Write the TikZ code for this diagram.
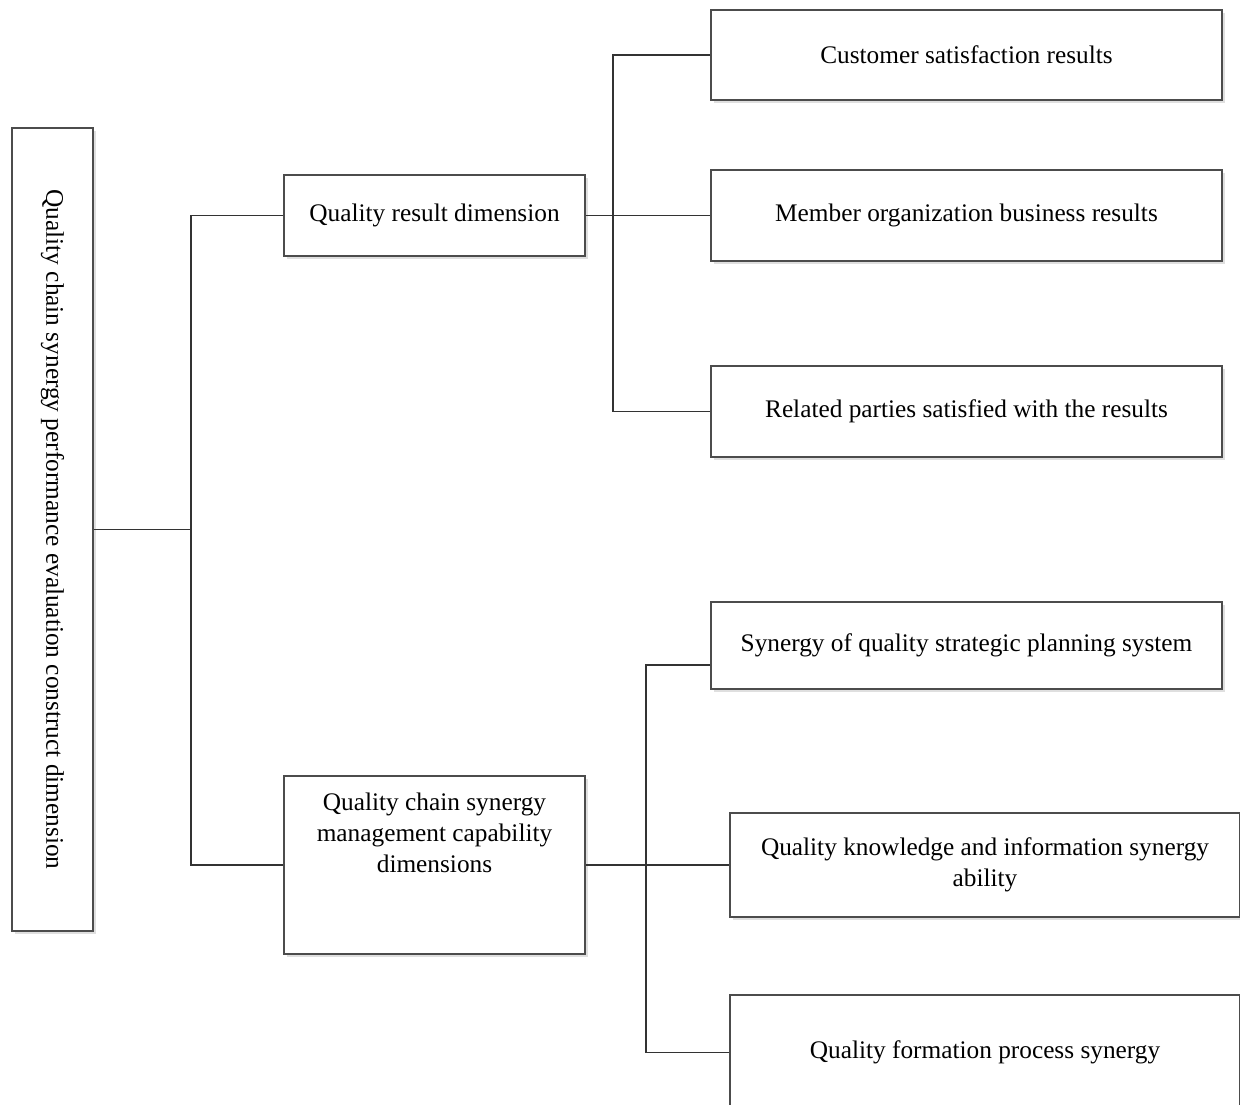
\documentclass[tikz,border=0pt]{standalone}
\usepackage{fontspec}
\setmainfont{Liberation Serif}
\usetikzlibrary{shadows}

\begin{document}
\begin{tikzpicture}[
x=0.025cm, y=-0.025cm,
every node/.style={font=\fontsize{18}{22}\selectfont},
dimbox/.style={draw=black!70, line width=1.2pt, fill=white, align=center,
  drop shadow={shadow xshift=2pt, shadow yshift=-2pt, opacity=0.25}},
midbox/.style={dimbox, minimum width=7.525cm},
leafbox/.style={dimbox, minimum width=12.775cm},
link/.style={draw=black!80, line width=1.3pt},]
\useasboundingbox (0,0) rectangle (1240,1104);

\node[dimbox, minimum width=2.025cm, minimum height=20.075cm,
  label={[rotate=-90, anchor=center]center:Quality chain synergy performance evaluation construct dimension}]
  (root) at (52.5,529.5) {};

\node[midbox, minimum height=2.025cm] (qrd) at (434.5,215.5) {Quality result dimension};
\node[midbox, minimum height=4.45cm,
  label={[align=center, anchor=north, yshift=-0.33cm]north:Quality chain synergy\\management capability\\dimensions}]
  (qcs) at (434.5,865) {};

\node[leafbox, minimum height=2.25cm] (csr) at (966.5,55) {Customer satisfaction results};
\node[leafbox, minimum height=2.275cm] (mob) at (966.5,215.5) {Member organization business results};
\node[leafbox, minimum height=2.275cm] (rps) at (966.5,411.5) {Related parties satisfied with the results};
\node[leafbox, minimum height=2.175cm] (sqs) at (966.5,645.5) {Synergy of quality strategic planning system};
\node[leafbox, minimum width=12.75cm, minimum height=2.6cm] (qki) at (985,865) {Quality knowledge and information synergy\\ability};
\node[leafbox, minimum width=12.75cm, minimum height=2.875cm] (qfp) at (985,1052.5) {Quality formation process synergy};

% trunk joints
\coordinate (j1) at (191,529.5);
\coordinate (j2) at (613,215.5);
\coordinate (j3) at (646,865);

\draw[link] (root.east) -- (j1);
\draw[link] (qrd.west) -| (j1) |- (qcs.west);
\draw[link] (qrd.east) -- (mob.west);
\draw[link] (csr.west) -| (j2) |- (rps.west);
\draw[link] (qcs.east) -- (qki.west);
\draw[link] ([yshift=-0.49cm]sqs.west) -| (j3) |- (qfp.west);
\end{tikzpicture}
\end{document}
